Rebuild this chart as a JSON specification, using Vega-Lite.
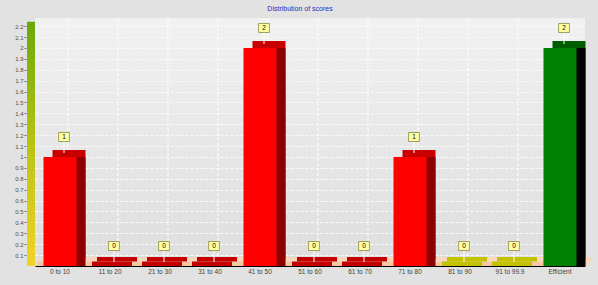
{
  "$schema": "https://vega.github.io/schema/vega-lite/v6.json",
  "autosize": {"type": "none"},
  "padding": {"left": 35, "top": 18, "right": 13, "bottom": 19},
  "width": 550,
  "height": 248,
  "background": "#e2e2e2",
  "title": {"text": "Distribution of scores", "fontSize": 7, "font": "Liberation Sans", "fontWeight": "normal", "color": "#2a2ab8", "offset": 6, "dx": -10},
  "config": {
    "view": {"fill": {"gradient": "linear", "x1": 0, "y1": 0, "x2": 0, "y2": 1, "stops": [{"offset": 0, "color": "#f1f1f1"}, {"offset": 1, "color": "#dedede"}]}, "stroke": null},
    "font": "Liberation Sans"
  },
  "data": {"values": [
    {"range": "0 to 10", "count": 1, "tier": "low"},
    {"range": "11 to 20", "count": 0, "tier": "low"},
    {"range": "21 to 30", "count": 0, "tier": "low"},
    {"range": "31 to 40", "count": 0, "tier": "low"},
    {"range": "41 to 50", "count": 2, "tier": "low"},
    {"range": "51 to 60", "count": 0, "tier": "low"},
    {"range": "61 to 70", "count": 0, "tier": "low"},
    {"range": "71 to 80", "count": 1, "tier": "low"},
    {"range": "81 to 90", "count": 0, "tier": "mid"},
    {"range": "91 to 99.9", "count": 0, "tier": "mid"},
    {"range": "Efficient", "count": 2, "tier": "efficient"}
  ]},
  "encoding": {
    "x": {"field": "range", "type": "nominal", "sort": null, "title": null,
      "scale": {"paddingInner": 0, "paddingOuter": 0},
      "axis": {"labelAngle": 0, "labelFontSize": 6.5, "labelColor": "#404040", "ticks": false, "labelPadding": 2, "domainColor": "#000000", "domainWidth": 1.2, "grid": false}}
  },
  "layer": [
    {
      "mark": {"type": "rule", "xOffset": 8, "stroke": "#ffffff", "strokeDash": [3, 2], "strokeWidth": 1},
      "encoding": {
        "y": {"datum": 0, "type": "quantitative",
          "scale": {"domain": [0, 2.275], "nice": false, "zero": true},
          "axis": {"title": null, "values": [0.1, 0.2, 0.3, 0.4, 0.5, 0.6, 0.7, 0.8, 0.9, 1, 1.1, 1.2, 1.3, 1.4, 1.5, 1.6, 1.7, 1.8, 1.9, 2, 2.1, 2.2], "tickCount": 40, "format": "~g", "labelOverlap": false, "offset": 9, "domain": false, "tickSize": 2, "tickColor": "#707070", "labelPadding": 1, "labelFontSize": 6, "labelColor": "#505050", "grid": true, "gridColor": "#fafafa", "gridDash": [3, 2], "gridWidth": 1}},
        "y2": {"datum": 2.275}}
    },
    {
      "mark": {"type": "bar", "width": 8, "xOffset": -29, "yOffset": 0,
        "fill": {"gradient": "linear", "x1": 0, "y1": 1, "x2": 0, "y2": 0, "stops": [{"offset": 0, "color": "#f2d22a"}, {"offset": 0.5, "color": "#b8c414"}, {"offset": 1, "color": "#6aa80a"}]}},
      "transform": [{"filter": "datum.range == '0 to 10'"}],
      "encoding": {
        "y": {"datum": 0, "type": "quantitative"},
        "y2": {"datum": 2.24}
      }
    },
    {
      "mark": {"type": "tick", "size": 50, "thickness": 4.5, "yOffset": -2.25, "xOffset": 2, "color": "#f7c6a2", "opacity": 1},
      "encoding": {"y": {"datum": 0, "type": "quantitative"}}
    },
    {
      "mark": {"type": "tick", "size": 50, "thickness": 4.5, "yOffset": -6.75, "xOffset": 7, "color": "#fbd8bd", "opacity": 1},
      "encoding": {"y": {"datum": 0, "type": "quantitative"}}
    },
    {
      "transform": [{"filter": "datum.count == 0"}],
      "mark": {"type": "tick", "size": 40, "thickness": 4.5, "yOffset": -2.25, "xOffset": 2, "opacity": 1},
      "encoding": {
        "y": {"field": "count", "type": "quantitative"},
        "color": {"field": "tier", "type": "nominal", "legend": null, "scale": {"domain": ["low", "mid", "efficient"], "range": ["#c40000", "#c2c200", "#005a00"]}}
      }
    },
    {
      "transform": [{"filter": "datum.count == 0"}],
      "mark": {"type": "tick", "size": 40, "thickness": 4.5, "yOffset": -6.75, "xOffset": 7, "opacity": 1},
      "encoding": {
        "y": {"field": "count", "type": "quantitative"},
        "color": {"field": "tier", "type": "nominal", "legend": null, "scale": {"domain": ["low", "mid", "efficient"], "range": ["#c40000", "#c2c200", "#005a00"]}}
      }
    },
    {
      "mark": {"type": "bar", "width": 33, "xOffset": 9, "yOffset": -7},
      "encoding": {
        "y": {"field": "count", "type": "quantitative"},
        "color": {"field": "tier", "type": "nominal", "legend": null, "scale": {"domain": ["low", "mid", "efficient"], "range": ["#c80000", "#c8c800", "#005c00"]}}
      }
    },
    {
      "mark": {"type": "bar", "width": 33, "xOffset": 9},
      "encoding": {
        "y": {"field": "count", "type": "quantitative"},
        "color": {"field": "tier", "type": "nominal", "legend": null, "scale": {"domain": ["low", "mid", "efficient"], "range": ["#8e0000", "#8e8e00", "#000000"]}}
      }
    },
    {
      "mark": {"type": "bar", "width": 33},
      "encoding": {
        "y": {"field": "count", "type": "quantitative"},
        "color": {"field": "tier", "type": "nominal", "legend": null, "scale": {"domain": ["low", "mid", "efficient"], "range": ["#ff0000", "#e6e600", "#008000"]}}
      }
    },
    {
      "mark": {"type": "rule", "xOffset": 4, "yOffset": -4, "y2Offset": -16, "stroke": "#ffffff", "strokeWidth": 1},
      "encoding": {
        "y": {"field": "count", "type": "quantitative"},
        "y2": {"field": "count"}
      }
    },
    {
      "mark": {"type": "point", "shape": "M-1.2,-1H1.2V1H-1.2Z", "size": 81, "filled": true, "fill": "#ffffa6", "stroke": "#8a8a40", "strokeWidth": 0.8, "opacity": 1, "xOffset": 4, "yOffset": -20},
      "encoding": {"y": {"field": "count", "type": "quantitative"}}
    },
    {
      "mark": {"type": "text", "fontSize": 6.5, "color": "#000000", "xOffset": 4, "yOffset": -20, "baseline": "middle", "align": "center"},
      "encoding": {
        "y": {"field": "count", "type": "quantitative"},
        "text": {"field": "count", "type": "quantitative"}
      }
    }
  ],
  "resolve": {"scale": {"color": "independent"}}
}
